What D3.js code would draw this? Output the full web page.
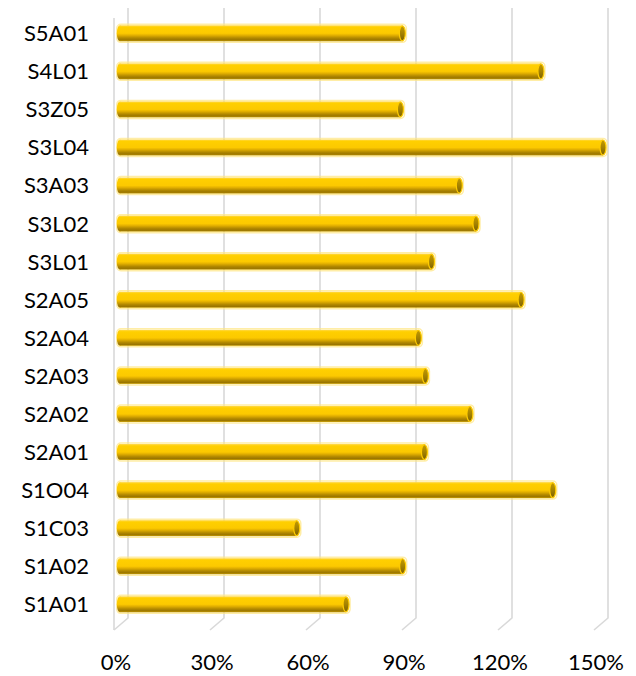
<!DOCTYPE html>
<html>
<head>
<meta charset="utf-8">
<script src="https://cdn.jsdelivr.net/npm/d3@7"></script>
<style>
  body { margin: 0; background: #fff; }
  text { font-family: Lato, "Open Sans", sans-serif; fill: #000; }
</style>
</head>
<body>
<div class="chart"></div>
<script>
// categories top to bottom
const categories = ['S5A01', 'S4L01', 'S3Z05', 'S3L04', 'S3A03', 'S3L02', 'S3L01', 'S2A05',
  'S2A04', 'S2A03', 'S2A02', 'S2A01', 'S1O04', 'S1C03', 'S1A02', 'S1A01'];
const values = [0.883, 1.316, 0.877, 1.51, 1.061, 1.113, 0.974, 1.254,
  0.933, 0.955, 1.094, 0.952, 1.353, 0.553, 0.884, 0.707];
const ticks = [0, 0.3, 0.6, 0.9, 1.2, 1.5];

// size options
const width = 636, height = 676;
const backLeft = 128, frontLeft = 114, barLeft = 119.8;
const gridTop = 8, gridBend = 618, gridBottom = 630;
const barH = 16;

const svg = d3.select('.chart').append('svg')
  .attr('width', width)
  .attr('height', height);

const x = d3.scaleLinear().domain([0, 1.5]).range([0, 480]);
const y = d3.scalePoint().domain(categories).range([33.3, 604.3]);

const defs = svg.append('defs');
const body = defs.append('linearGradient')
  .attr('id', 'body').attr('x1', 0).attr('y1', 0).attr('x2', 0).attr('y2', 1);
[[0, '#ffd94a'], [0.12, '#ffcf00'], [0.5, '#fcc900'], [0.62, '#e3b000'],
 [0.8, '#b08700'], [0.92, '#9a7500'], [1, '#d2a500']]
  .forEach(s => body.append('stop').attr('offset', s[0]).attr('stop-color', s[1]));
const cap = defs.append('linearGradient')
  .attr('id', 'cap').attr('x1', 0).attr('y1', 0).attr('x2', 0).attr('y2', 1);
[[0, '#c49b00'], [0.5, '#a58200'], [1, '#7c6000']]
  .forEach(s => cap.append('stop').attr('offset', s[0]).attr('stop-color', s[1]));

// walls + gridlines
const grid = svg.append('g').attr('stroke', '#d9d9d9').attr('stroke-width', 1.6).attr('fill', 'none');
grid.append('line')
  .attr('x1', frontLeft).attr('x2', frontLeft)
  .attr('y1', gridTop + 10).attr('y2', gridBottom);
grid.selectAll('polyline')
  .data(ticks)
  .enter().append('polyline')
  .attr('points', d => [[backLeft + x(d), gridTop], [backLeft + x(d), gridBend], [frontLeft + x(d), gridBottom]].join(' '));

// tick labels
svg.append('g').selectAll('text')
  .data(ticks)
  .enter().append('text')
  .attr('x', d => frontLeft + 2 + x(d))
  .attr('y', 670)
  .attr('text-anchor', 'middle')
  .style('font-size', '22px')
  .text(d => `${Math.round(d * 100)}%`);

// category labels
svg.append('g').selectAll('text')
  .data(categories)
  .enter().append('text')
  .attr('x', 89)
  .attr('y', d => y(d))
  .attr('dy', '0.36em')
  .attr('text-anchor', 'end')
  .style('font-size', '22px')
  .text(d => d);

// bars
const bars = svg.append('g').selectAll('g')
  .data(categories.map((c, i) => ({ c, v: values[i] })))
  .enter().append('g')
  .attr('transform', d => `translate(0,${y(d.c) - barH / 2})`);

bars.append('rect')
  .attr('x', barLeft - 3)
  .attr('y', -1)
  .attr('rx', 4)
  .attr('width', d => x(d.v) + 7)
  .attr('height', barH + 2)
  .attr('fill', 'none')
  .attr('stroke', '#ffe680')
  .attr('stroke-width', 1.5)
  .attr('opacity', 0.7);

bars.append('ellipse')
  .attr('cx', barLeft)
  .attr('cy', barH / 2)
  .attr('rx', 3)
  .attr('ry', barH / 2)
  .attr('fill', 'url(#body)');

bars.append('rect')
  .attr('x', barLeft)
  .attr('width', d => x(d.v))
  .attr('height', barH)
  .attr('fill', 'url(#body)');

bars.append('ellipse')
  .attr('cx', d => barLeft + x(d.v))
  .attr('cy', barH / 2)
  .attr('rx', 3)
  .attr('ry', barH / 2 - 0.5)
  .attr('fill', 'url(#cap)')
  .attr('stroke', '#ffcc00')
  .attr('stroke-width', 1.2);
</script>
</body>
</html>
